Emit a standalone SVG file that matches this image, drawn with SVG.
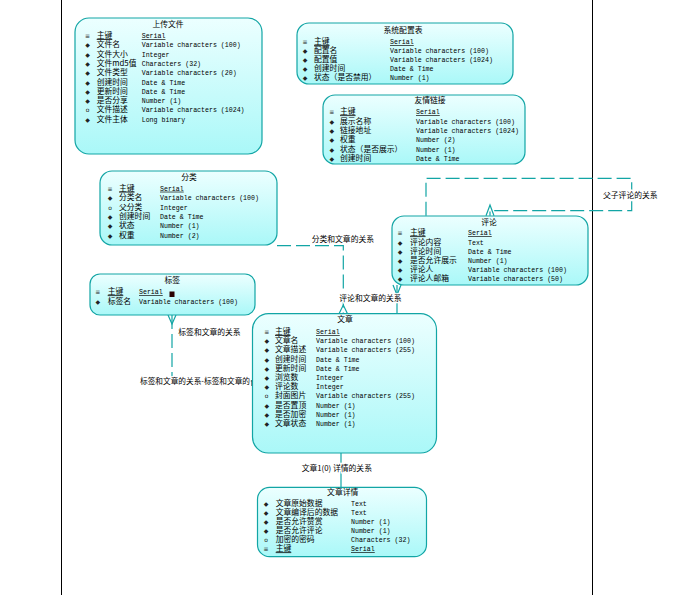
<svg xmlns="http://www.w3.org/2000/svg" width="693" height="595" viewBox="0 0 693 595">
<defs>
<linearGradient id="g" x1="0" y1="0" x2="0" y2="1">
<stop offset="0" stop-color="#ecffff"/>
<stop offset="1" stop-color="#aaf8f8"/>
</linearGradient>
</defs>
<style>
.ent{fill:url(#g);stroke:#12a5a5;stroke-width:1.2}
.t{font-family:"Noto Sans CJK SC","Noto Sans",sans-serif;font-size:7.8px;fill:#000}
.ti{font-family:"Noto Sans CJK SC","Noto Sans",sans-serif;font-size:7.8px;fill:#000;text-anchor:middle}
.m{font-family:"Liberation Mono",monospace;font-size:6.6px;fill:#000}
.s{font-family:"DejaVu Sans",sans-serif;font-size:6px;fill:#222;text-anchor:middle}
.u{text-decoration:underline}
.c{fill:none;stroke:#12a5a5;stroke-width:1.2}
.d{fill:none;stroke:#12a5a5;stroke-width:1.2;stroke-dasharray:14 5}
.lb{font-family:"Noto Sans CJK SC","Noto Sans",sans-serif;font-size:7.8px;fill:#000;stroke:#fff;stroke-width:2.5px;paint-order:stroke}
.bl{stroke:#000;stroke-width:1}
.mk{fill:#2a0000}
</style>
<rect width="693" height="595" fill="#fff"/>
<line class="bl" x1="61.5" y1="0" x2="61.5" y2="595"/>
<line class="bl" x1="592.5" y1="0" x2="592.5" y2="595"/>

<g id="connectors">
<path class="d" d="M426 215.7 V178.3 H631.7 V210.7 H490 V215.7"/>
<path class="c" d="M486 215.7 L490 205 L494 215.7"/>
<path class="d" d="M277 245.7 H343.3 V313.7"/>
<path class="c" d="M339 313.7 L343.3 305 L347.5 313.7"/>
<path class="c" d="M397 285 V313.7"/>
<path class="c" d="M393 285 L397 295 L401 285"/>
<path class="d" d="M172 315 V381 H253"/>
<path class="c" d="M168 315 L172 324 L176 315"/>
<path class="c" d="M341 453 V487.3"/>
<text class="lb" x="603" y="198">父子评论的关系</text>
<text class="lb" x="311.7" y="242">分类和文章的关系</text>
<text class="lb" x="339.3" y="300.7">评论和文章的关系</text>
<text class="lb" x="178.3" y="335">标签和文章的关系</text>
<text class="lb" x="140" y="384" textLength="110" lengthAdjust="spacingAndGlyphs">标签和文章的关系-标签和文章的</text>
<rect class="mk" x="251.5" y="380" width="2.5" height="6"/>
<text class="lb" x="301.7" y="471">文章1(0) 详情的关系</text>
</g>

<g id="upload">
<rect class="ent" x="75" y="18" width="187" height="136" rx="14"/>
<text class="ti" x="168" y="27">上传文件</text>
<text class="s" x="87.5" y="38">≡</text><text class="t u" x="96.7" y="38">主键</text><text class="m u" x="141.7" y="38">Serial</text>
<text class="s" x="87.5" y="47.3">◆</text><text class="t" x="96.7" y="47.3">文件名</text><text class="m" x="141.7" y="47.3">Variable characters (100)</text>
<text class="s" x="87.5" y="56.6">◆</text><text class="t" x="96.7" y="56.6">文件大小</text><text class="m" x="141.7" y="56.6">Integer</text>
<text class="s" x="87.5" y="65.9">◆</text><text class="t" x="96.7" y="65.9">文件md5值</text><text class="m" x="141.7" y="65.9">Characters (32)</text>
<text class="s" x="87.5" y="75.2">◆</text><text class="t" x="96.7" y="75.2">文件类型</text><text class="m" x="141.7" y="75.2">Variable characters (20)</text>
<text class="s" x="87.5" y="84.5">◆</text><text class="t" x="96.7" y="84.5">创建时间</text><text class="m" x="141.7" y="84.5">Date &amp; Time</text>
<text class="s" x="87.5" y="93.8">◆</text><text class="t" x="96.7" y="93.8">更新时间</text><text class="m" x="141.7" y="93.8">Date &amp; Time</text>
<text class="s" x="87.5" y="103.1">◆</text><text class="t" x="96.7" y="103.1">是否分享</text><text class="m" x="141.7" y="103.1">Number (1)</text>
<text class="s" x="87.5" y="112.4">o</text><text class="t" x="96.7" y="112.4">文件描述</text><text class="m" x="141.7" y="112.4">Variable characters (1024)</text>
<text class="s" x="87.5" y="121.7">◆</text><text class="t" x="96.7" y="121.7">文件主体</text><text class="m" x="141.7" y="121.7">Long binary</text>
</g>

<g id="config">
<rect class="ent" x="297" y="23" width="216" height="61" rx="12"/>
<text class="ti" x="403" y="33">系统配置表</text>
<text class="s" x="305" y="44.3">≡</text><text class="t u" x="314" y="44.3">主键</text><text class="m u" x="390" y="44.3">Serial</text>
<text class="s" x="305" y="53.3">◆</text><text class="t" x="314" y="53.3">配置名</text><text class="m" x="390" y="53.3">Variable characters (100)</text>
<text class="s" x="305" y="62.3">◆</text><text class="t" x="314" y="62.3">配置值</text><text class="m" x="390" y="62.3">Variable characters (1024)</text>
<text class="s" x="305" y="71.3">◆</text><text class="t" x="314" y="71.3">创建时间</text><text class="m" x="390" y="71.3">Date &amp; Time</text>
<text class="s" x="305" y="80.3">◆</text><text class="t" x="314" y="80.3">状态（是否禁用）</text><text class="m" x="390" y="80.3">Number (1)</text>
</g>

<g id="links">
<rect class="ent" x="323" y="95" width="202" height="69" rx="12"/>
<text class="ti" x="430" y="103">友情链接</text>
<text class="s" x="331.7" y="114.3">≡</text><text class="t u" x="340" y="114.3">主键</text><text class="m u" x="416" y="114.3">Serial</text>
<text class="s" x="331.7" y="123.6">◆</text><text class="t" x="340" y="123.6">展示名称</text><text class="m" x="416" y="123.6">Variable characters (100)</text>
<text class="s" x="331.7" y="132.9">◆</text><text class="t" x="340" y="132.9">链接地址</text><text class="m" x="416" y="132.9">Variable characters (1024)</text>
<text class="s" x="331.7" y="142.2">◆</text><text class="t" x="340" y="142.2">权重</text><text class="m" x="416" y="142.2">Number (2)</text>
<text class="s" x="331.7" y="151.5">◆</text><text class="t" x="340" y="151.5">状态（是否展示）</text><text class="m" x="416" y="151.5">Number (1)</text>
<text class="s" x="331.7" y="160.8">◆</text><text class="t" x="340" y="160.8">创建时间</text><text class="m" x="416" y="160.8">Date &amp; Time</text>
</g>

<g id="category">
<rect class="ent" x="100" y="171" width="177" height="74" rx="12"/>
<text class="ti" x="189" y="180">分类</text>
<text class="s" x="110" y="190.7">≡</text><text class="t u" x="119" y="190.7">主键</text><text class="m u" x="160" y="190.7">Serial</text>
<text class="s" x="110" y="200.1">◆</text><text class="t" x="119" y="200.1">分类名</text><text class="m" x="160" y="200.1">Variable characters (100)</text>
<text class="s" x="110" y="209.5">o</text><text class="t" x="119" y="209.5">父分类</text><text class="m" x="160" y="209.5">Integer</text>
<text class="s" x="110" y="218.9">◆</text><text class="t" x="119" y="218.9">创建时间</text><text class="m" x="160" y="218.9">Date &amp; Time</text>
<text class="s" x="110" y="228.3">◆</text><text class="t" x="119" y="228.3">状态</text><text class="m" x="160" y="228.3">Number (1)</text>
<text class="s" x="110" y="237.7">◆</text><text class="t" x="119" y="237.7">权重</text><text class="m" x="160" y="237.7">Number (2)</text>
</g>

<g id="comment">
<rect class="ent" x="392" y="216" width="196" height="69" rx="12"/>
<text class="ti" x="489" y="225">评论</text>
<text class="s" x="400" y="235.3">≡</text><text class="t u" x="410" y="235.3">主键</text><text class="m u" x="468" y="235.3">Serial</text>
<text class="s" x="400" y="244.5">◆</text><text class="t" x="410" y="244.5">评论内容</text><text class="m" x="468" y="244.5">Text</text>
<text class="s" x="400" y="253.7">◆</text><text class="t" x="410" y="253.7">评论时间</text><text class="m" x="468" y="253.7">Date &amp; Time</text>
<text class="s" x="400" y="262.9">◆</text><text class="t" x="410" y="262.9">是否允许展示</text><text class="m" x="468" y="262.9">Number (1)</text>
<text class="s" x="400" y="272.1">◆</text><text class="t" x="410" y="272.1">评论人</text><text class="m" x="468" y="272.1">Variable characters (100)</text>
<text class="s" x="400" y="281.3">◆</text><text class="t" x="410" y="281.3">评论人邮箱</text><text class="m" x="468" y="281.3">Variable characters (50)</text>
</g>

<g id="tag">
<rect class="ent" x="90" y="274" width="165" height="41" rx="10"/>
<text class="ti" x="172.3" y="283">标签</text>
<text class="s" x="97.7" y="294.3">≡</text><text class="t u" x="107.7" y="294.3">主键</text><text class="m u" x="139" y="294.3">Serial</text>
<text class="s" x="97.7" y="303.7">◆</text><text class="t" x="107.7" y="303.7">标签名</text><text class="m" x="139" y="303.7">Variable characters (100)</text>
<rect class="mk" x="169.5" y="291.5" width="5" height="5.5"/>
</g>

<g id="article">
<rect class="ent" x="252.5" y="313.7" width="184" height="139.3" rx="16"/>
<text class="ti" x="345" y="322">文章</text>
<text class="s" x="266.7" y="334">≡</text><text class="t u" x="275" y="334">主键</text><text class="m u" x="316" y="334">Serial</text>
<text class="s" x="266.7" y="343.2">◆</text><text class="t" x="275" y="343.2">文章名</text><text class="m" x="316" y="343.2">Variable characters (100)</text>
<text class="s" x="266.7" y="352.4">◆</text><text class="t" x="275" y="352.4">文章描述</text><text class="m" x="316" y="352.4">Variable characters (255)</text>
<text class="s" x="266.7" y="361.6">◆</text><text class="t" x="275" y="361.6">创建时间</text><text class="m" x="316" y="361.6">Date &amp; Time</text>
<text class="s" x="266.7" y="370.8">◆</text><text class="t" x="275" y="370.8">更新时间</text><text class="m" x="316" y="370.8">Date &amp; Time</text>
<text class="s" x="266.7" y="380">◆</text><text class="t" x="275" y="380">浏览数</text><text class="m" x="316" y="380">Integer</text>
<text class="s" x="266.7" y="389.2">◆</text><text class="t" x="275" y="389.2">评论数</text><text class="m" x="316" y="389.2">Integer</text>
<text class="s" x="266.7" y="398.4">o</text><text class="t" x="275" y="398.4">封面图片</text><text class="m" x="316" y="398.4">Variable characters (255)</text>
<text class="s" x="266.7" y="407.6">◆</text><text class="t" x="275" y="407.6">是否置顶</text><text class="m" x="316" y="407.6">Number (1)</text>
<text class="s" x="266.7" y="416.8">◆</text><text class="t" x="275" y="416.8">是否加密</text><text class="m" x="316" y="416.8">Number (1)</text>
<text class="s" x="266.7" y="426">◆</text><text class="t" x="275" y="426">文章状态</text><text class="m" x="316" y="426">Number (1)</text>
</g>

<g id="article-detail">
<rect class="ent" x="257.5" y="487.3" width="169" height="69.4" rx="12"/>
<text class="ti" x="342.7" y="495">文章详情</text>
<text class="s" x="266" y="506.3">◆</text><text class="t" x="275.7" y="506.3">文章原始数据</text><text class="m" x="351" y="506.3">Text</text>
<text class="s" x="266" y="515.3">◆</text><text class="t" x="275.7" y="515.3">文章编译后的数据</text><text class="m" x="351" y="515.3">Text</text>
<text class="s" x="266" y="524.3">◆</text><text class="t" x="275.7" y="524.3">是否允许赞赏</text><text class="m" x="351" y="524.3">Number (1)</text>
<text class="s" x="266" y="533.3">◆</text><text class="t" x="275.7" y="533.3">是否允许评论</text><text class="m" x="351" y="533.3">Number (1)</text>
<text class="s" x="266" y="542.3">o</text><text class="t" x="275.7" y="542.3">加密的密码</text><text class="m" x="351" y="542.3">Characters (32)</text>
<text class="s" x="266" y="551.3">≡</text><text class="t u" x="275.7" y="551.3">主键</text><text class="m u" x="351" y="551.3">Serial</text>
</g>
</svg>
